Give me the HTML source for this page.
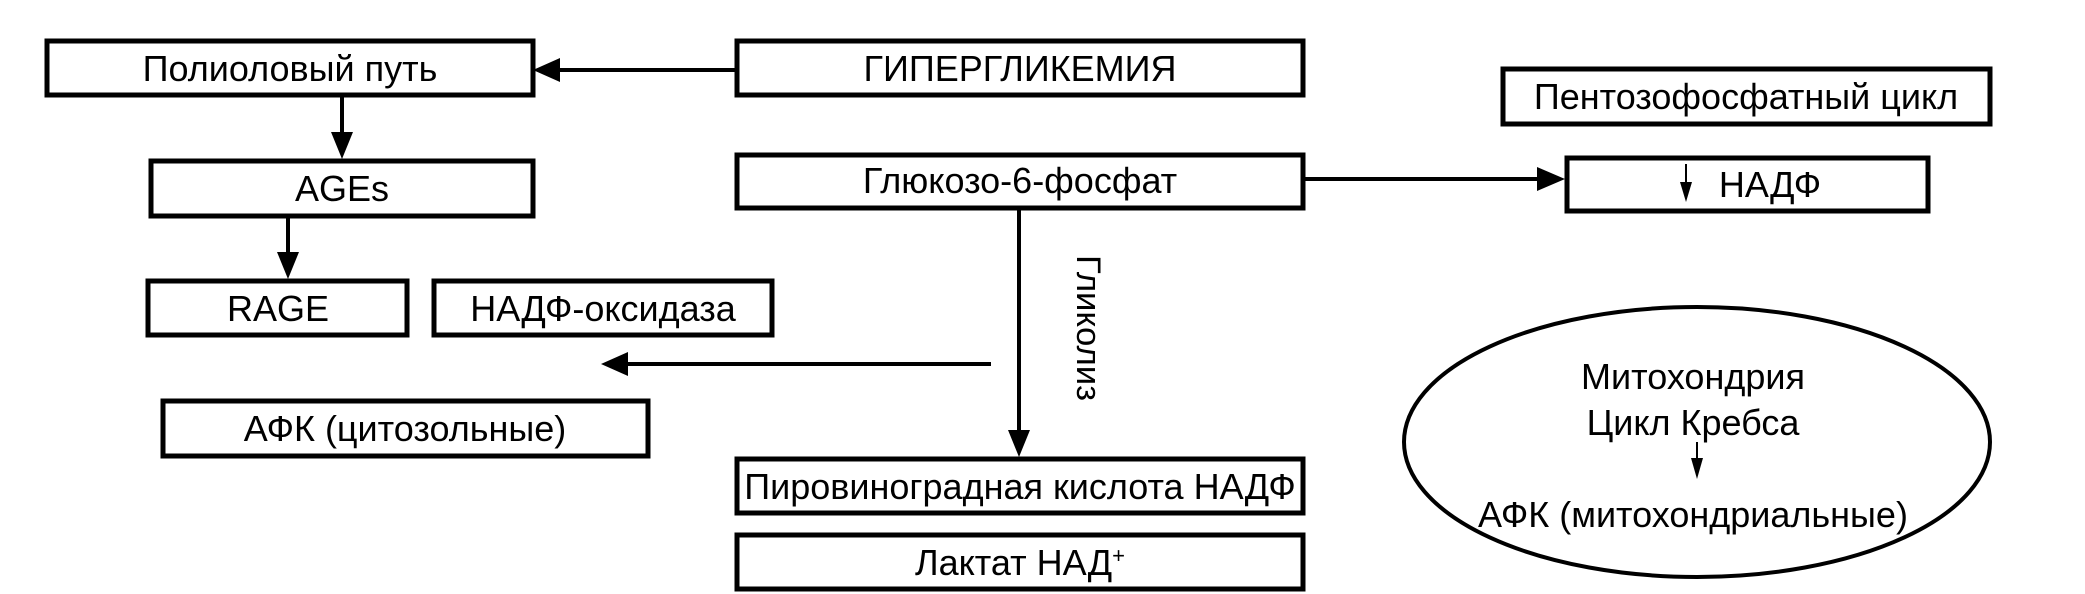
<!DOCTYPE html>
<html><head><meta charset="utf-8"><style>
html,body{margin:0;padding:0;background:#fff;}
svg{display:block;}
text{font-family:"Liberation Sans Narrow","Liberation Sans",sans-serif;font-size:36px;fill:#000;}
</style></head><body>
<svg width="2085" height="594" viewBox="0 0 2085 594" xmlns="http://www.w3.org/2000/svg">
<g fill="none" stroke="#000" stroke-width="5">
<rect x="47" y="41" width="486" height="54"/>
<rect x="737" y="41" width="566" height="54"/>
<rect x="1503" y="69" width="487" height="55"/>
<rect x="151" y="161" width="382" height="55"/>
<rect x="737" y="155" width="566" height="53"/>
<rect x="1567" y="158" width="361" height="53"/>
<rect x="148" y="281" width="259" height="54"/>
<rect x="434" y="281" width="338" height="54"/>
<rect x="163" y="401" width="485" height="55"/>
<rect x="737" y="459" width="566" height="54"/>
<rect x="737" y="535" width="566" height="54"/>
<ellipse cx="1697" cy="442" rx="293" ry="135" stroke-width="4"/>
</g>
<g stroke="#000" stroke-width="4" fill="none">
<line x1="735" y1="70" x2="555" y2="70"/>
<line x1="342" y1="95" x2="342" y2="135"/>
<line x1="288" y1="216" x2="288" y2="255"/>
<line x1="991" y1="364" x2="625" y2="364"/>
<line x1="1019" y1="208" x2="1019" y2="432"/>
<line x1="1303" y1="179" x2="1540" y2="179"/>
<line x1="1686" y1="164" x2="1686" y2="185" stroke-width="2"/>
<line x1="1697" y1="442" x2="1697" y2="462" stroke-width="2"/>
</g>
<g fill="#000">
<polygon points="533,70 560,58 560,82"/>
<polygon points="342,159 331,132 353,132"/>
<polygon points="288,279 277,252 299,252"/>
<polygon points="601,364 628,352 628,376"/>
<polygon points="1019,457 1008,430 1030,430"/>
<polygon points="1565,179 1537,167 1537,191"/>
<polygon points="1686,202 1680,182 1692,182"/>
<polygon points="1697,479 1691,458 1703,458"/>
</g>
<g text-anchor="middle">
<text x="290" y="81">Полиоловый путь</text>
<text x="1020" y="81">ГИПЕРГЛИКЕМИЯ</text>
<text x="1746" y="109">Пентозофосфатный цикл</text>
<text x="342" y="201">AGEs</text>
<text x="1020" y="193">Глюкозо-6-фосфат</text>
<text x="1770" y="197">НАДФ</text>
<text x="278" y="321">RAGE</text>
<text x="603" y="321">НАДФ-оксидаза</text>
<text x="405" y="441">АФК (цитозольные)</text>
<text x="1020" y="499">Пировиноградная кислота НАДФ</text>
<text x="1020" y="575">Лактат НАД<tspan font-size="22" dy="-12">+</tspan></text>
<text x="1693" y="389">Митохондрия</text>
<text x="1693" y="435">Цикл Кребса</text>
<text x="1693" y="527">АФК (митохондриальные)</text>
</g>
<text x="0" y="0" transform="translate(1077,255) rotate(90)" style="font-family:'Liberation Sans',sans-serif;font-size:34px" textLength="146" lengthAdjust="spacingAndGlyphs">Гликолиз</text>
</svg>
</body></html>
